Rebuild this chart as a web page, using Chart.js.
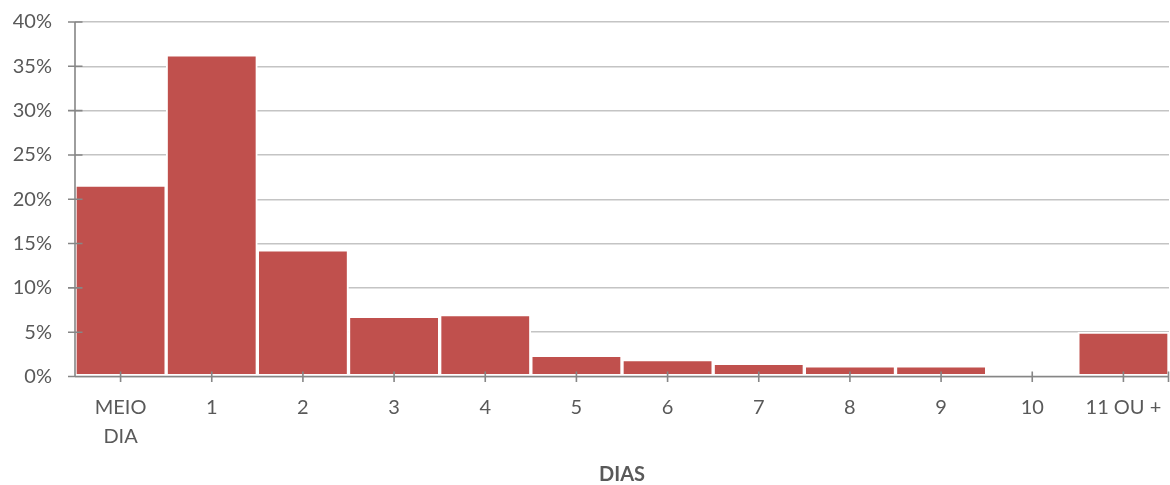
<!DOCTYPE html>
<html>
<head>
<meta charset="utf-8">
<script src="https://cdn.jsdelivr.net/npm/chart.js@4/dist/chart.umd.min.js"></script>
<style>
  html, body { margin: 0; padding: 0; background: #ffffff; }
  #wrap { width: 1170px; height: 485px; }
</style>
</head>
<body>
<div id="wrap"><canvas id="c" width="1170" height="485"></canvas></div>
<script>
const categories = [['MEIO', 'DIA'], '1', '2', '3', '4', '5', '6', '7', '8', '9', '10', '11 OU +'];
const percentages = [21.6, 36.3, 14.3, 6.8, 7.0, 2.4, 1.9, 1.5, 1.2, 1.2, 0, 5.0];
const yTickValues = [0, 5, 10, 15, 20, 25, 30, 35, 40];
const xTitle = 'DIAS';

const TEXT = '#595959';
const AXIS = '#868686';
const FONT = 'Lato, "Liberation Sans", sans-serif';

const axisPlugin = {
  id: 'axisPlugin',
  afterDatasetsDraw(chart) {
    const { ctx, chartArea: ca, scales: { x, y } } = chart;
    ctx.save();
    ctx.strokeStyle = AXIS;
    ctx.lineWidth = 1.6;
    ctx.beginPath();
    ctx.moveTo(ca.left, ca.top);
    ctx.lineTo(ca.left, ca.bottom);
    ctx.moveTo(ca.left - 7, ca.bottom);
    ctx.lineTo(ca.right, ca.bottom);
    y.ticks.forEach((t, i) => {
      const py = y.getPixelForTick(i);
      ctx.moveTo(ca.left - 7, py);
      ctx.lineTo(ca.left + 7.5, py);
    });
    x.ticks.forEach((t, i) => {
      const px = x.getPixelForTick(i);
      ctx.moveTo(px, ca.bottom - 5);
      ctx.lineTo(px, ca.bottom + 5.5);
    });
    ctx.moveTo(ca.right - 0.5, ca.bottom - 5);
    ctx.lineTo(ca.right - 0.5, ca.bottom + 5.5);
    ctx.stroke();
    ctx.restore();
  }
};

new Chart(document.getElementById('c'), {
  type: 'bar',
  data: {
    labels: categories,
    datasets: [{
      data: percentages,
      backgroundColor: '#c0504d',
      borderColor: '#ffffff',
      borderWidth: 2,
      borderSkipped: false,
      barPercentage: 1,
      categoryPercentage: 1
    }]
  },
  options: {
    responsive: false,
    animation: false,
    devicePixelRatio: 1,
    layout: { padding: { top: 22, right: 1, left: 0, bottom: 0 } },
    plugins: {
      legend: { display: false },
      tooltip: { enabled: false }
    },
    scales: {
      x: {
        grid: { display: false, drawOnChartArea: false, drawTicks: false },
        border: { display: false },
        ticks: {
          color: TEXT,
          font: { family: FONT, size: 20, lineHeight: 1.47 },
          padding: 16,
          maxRotation: 0,
          autoSkip: false
        },
        title: {
          display: true,
          text: xTitle,
          color: TEXT,
          font: { family: FONT, size: 20, weight: 'bold', lineHeight: 1.0 },
          padding: { top: 4, bottom: 0 }
        },
        afterFit(s) { s.height = 108.5; s.paddingLeft = 0; s.paddingRight = 0; }
      },
      y: {
        min: 0,
        max: 40,
        afterBuildTicks(s) { s.ticks = yTickValues.map(v => ({ value: v })); },
        grid: { color: '#c4c4c4', lineWidth: 1.5, drawTicks: false },
        border: { display: false },
        ticks: {
          color: TEXT,
          font: { family: FONT, size: 20 },
          padding: 23,
          callback: v => v + '%'
        },
        afterFit(s) { s.width = 75; s.paddingTop = 0; s.paddingBottom = 0; }
      }
    }
  },
  plugins: [axisPlugin]
});
</script>
</body>
</html>
